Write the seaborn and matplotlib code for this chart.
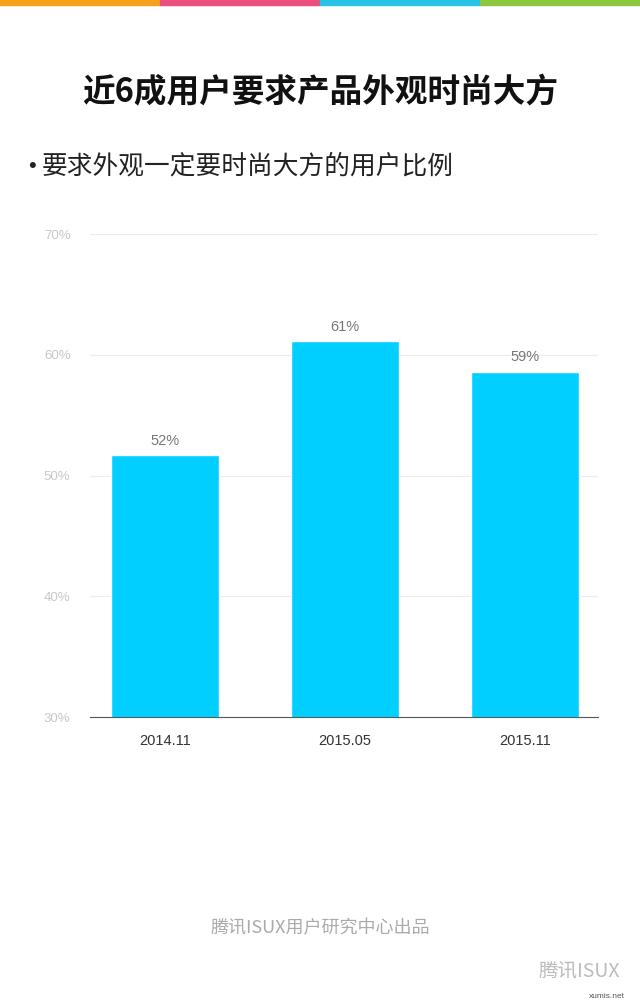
import matplotlib
matplotlib.use("Agg")
import matplotlib.pyplot as plt
import seaborn as sns
import pandas as pd

periods = ["2014.11", "2015.05", "2015.11"]
values = [51.7, 61.1, 58.6]
labels = ["52%", "61%", "59%"]
yticks = [30, 40, 50, 60, 70]

sns.set_style("white")
plt.rcParams['font.family'] = ['Noto Sans CJK SC', 'DejaVu Sans']
num_font = ['Liberation Sans', 'DejaVu Sans']

W, H = 640, 1008
fig = plt.figure(figsize=(6.4, 10.08), dpi=100)

# top colour stripe
for i, c in enumerate(["#f7a11a", "#ec4f7f", "#27c4e8", "#8dc63f"]):
    fig.patches.append(plt.Rectangle((i * 0.25, 1 - 5 / H), 0.25, 5 / H,
                                     transform=fig.transFigure, color=c, zorder=5))

fig.text(0.5, 1 - 93 / H, "近6成用户要求产品外观时尚大方", ha="center", va="center",
         fontsize=23.5, fontweight="bold", color="#111111")
fig.text(28 / W, 1 - 167 / H, "•", ha="left", va="center", fontsize=16,
         color="#222222", family=num_font)
fig.text(42 / W, 1 - 167 / H, "要求外观一定要时尚大方的用户比例", ha="left", va="center",
         fontsize=18.5, color="#222222")

ax = fig.add_axes([90 / W, 1 - 717 / H, 508 / W, 483 / H])
df = pd.DataFrame({"period": periods, "value": values})
sns.barplot(data=df, x="period", y="value", color="#00cfff", saturation=1,
            width=0.6, ax=ax, zorder=3)
ax.set_xlim(-0.417, 2.406)
ax.set_ylim(30, 70)
ax.set_yticks(yticks)
ax.set_yticklabels([f"{t}%" for t in yticks], color="#c8c8c8", fontsize=9.5,
                   family=num_font)
ax.set_xticks(range(len(periods)))
ax.set_xticklabels(periods, fontsize=10.5, color="#333333", family=num_font)
ax.tick_params(axis="y", length=0, pad=8)
ax.tick_params(axis="x", length=0, pad=12)
for lab in ax.get_yticklabels():
    lab.set_horizontalalignment("left")
    lab.set_x(-35 / 508)
ax.grid(axis="y", color="#ececec", linewidth=0.8, zorder=0)
for s in ["top", "right", "left"]:
    ax.spines[s].set_visible(False)
ax.spines["bottom"].set_color("#555555")
ax.set_xlabel("")
ax.set_ylabel("")
for i, (v, l) in enumerate(zip(values, labels)):
    ax.text(i, v + 0.6, l, ha="center", va="bottom", fontsize=10.5,
            color="#777777", family=num_font)

fig.text(0.5, 1 - 928 / H, "腾讯ISUX用户研究中心出品", ha="center", va="center",
         fontsize=13, color="#aaaaaa")
fig.text(620 / W, 1 - 972 / H, "腾讯ISUX", ha="right", va="center",
         fontsize=14, color="#bbbbbb")
fig.text(625 / W, 1 - 997 / H, "xumis.net", ha="right", va="center",
         fontsize=6, color="#555555", family=num_font)

fig.savefig("out.png", dpi=100, facecolor="white")
